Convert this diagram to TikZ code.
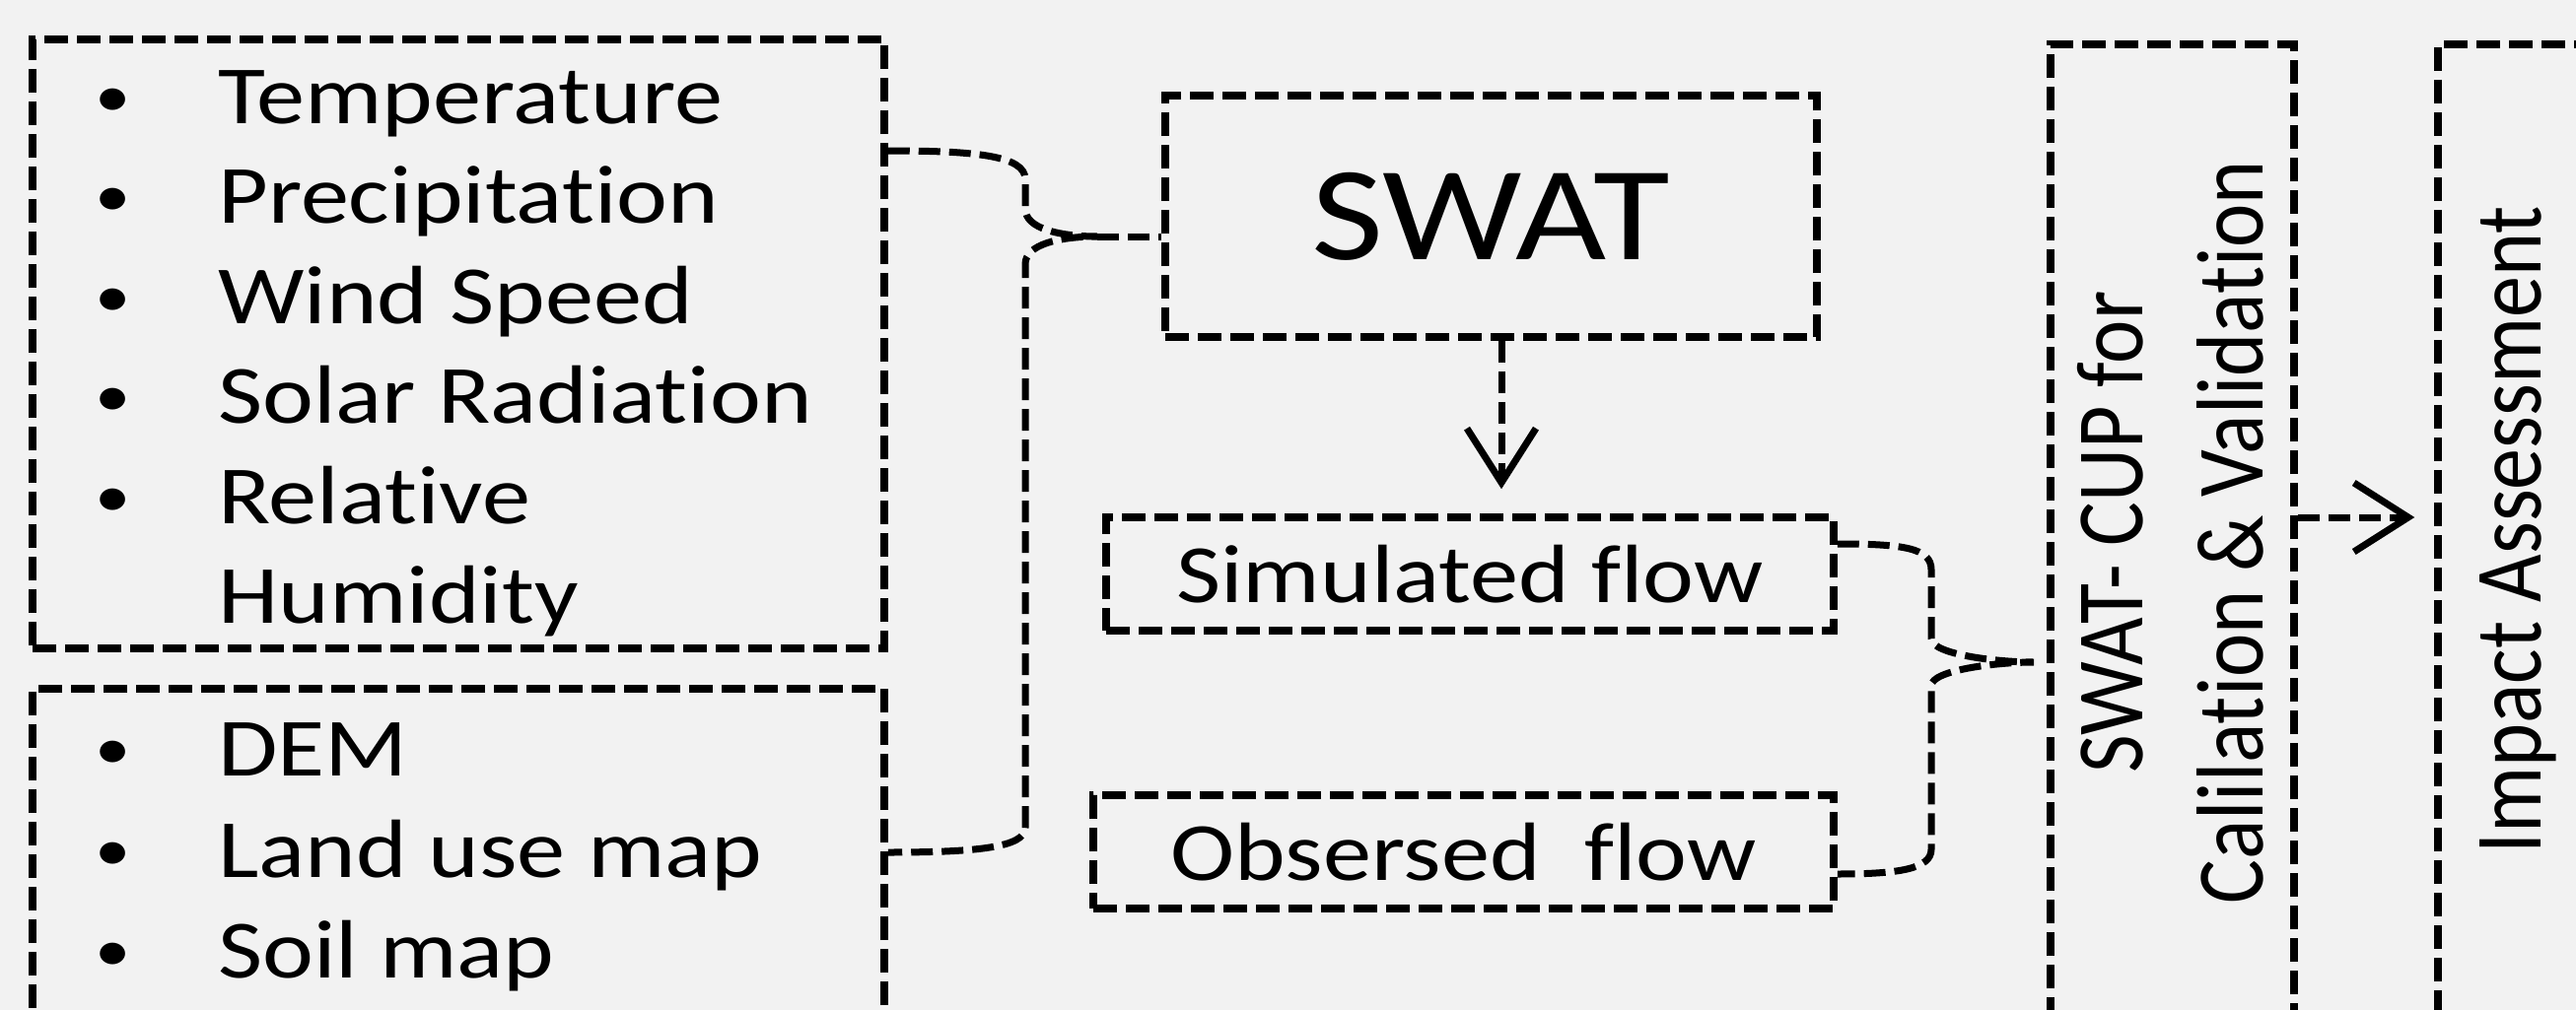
\documentclass[tikz,border=0pt]{standalone}
\usepackage{fontspec}
\setmainfont{Carlito}[FakeStretch=1.17, RawFeature={-liga;-dlig;-clig}]
\newfontfamily\vfont{Carlito}[RawFeature={-liga;-dlig;-clig}]
\usetikzlibrary{arrows.meta,calc}
\definecolor{bgc}{HTML}{F2F2F2}
\begin{document}
\begin{tikzpicture}[x=1pt,y=-1pt,
  dbox/.style={draw, line width=7.5pt, dash pattern=on 24pt off 9pt, inner sep=0pt},
  conn/.style={line width=7pt, dash pattern=on 22pt off 9pt},
  arr/.style={conn, -{Straight Barb[length=55pt,width=70pt]}},
  txt/.style={font=\fontsize{84}{101}\selectfont},
  itm/.style={txt, anchor=base west, inner sep=0pt},
  bul/.style={font=\fontsize{62}{70}\selectfont, anchor=base, inner sep=0pt},
  vtxt/.style={font=\vfont\fontsize{84}{101}\selectfont, inner sep=0pt, rotate=90, anchor=base},
]
\fill[bgc] (0,0) rectangle (2613,1025);
\useasboundingbox (0,0) rectangle (2613,1025);
\clip (0,0) rectangle (2613,1025);

% input boxes
\node[dbox, minimum width=864pt, minimum height=618pt] (clim) at (465,349) {};
\node[dbox, minimum width=864pt, minimum height=381pt] (geo) at (465,889.5) {};

\node[bul] (cb1) at (115,118) {•};
\node[itm] (ct1) at (221,125) {Temperature};
\node[bul] (cb2) at (115,219) {•};
\node[itm] (ct2) at (221,226) {Precipitation};
\node[bul] (cb3) at (115,321) {•};
\node[itm] (ct3) at (221,328) {Wind Speed};
\node[bul] (cb4) at (115,422) {•};
\node[itm] (ct4) at (221,429) {Solar Radiation};
\node[bul] (cb5) at (115,524) {•};
\node[itm] (ct5) at (221,531) {Relative};
\node[itm] (ct6) at (221,632) {Humidity};

\node[bul] (gb1) at (115,780) {•};
\node[itm] (gt1) at (221,787) {DEM};
\node[bul] (gb2) at (115,883) {•};
\node[itm] (gt2) at (221,890) {Land use map};
\node[bul] (gb3) at (115,985) {•};
\node[itm] (gt3) at (221,992) {Soil map};

% model boxes
\node[dbox, minimum width=661pt, minimum height=245pt, font=\fontsize{136}{160}\selectfont] (swat) at (1512.5,219.5) {SWAT};
\node[dbox, txt, minimum width=738pt, minimum height=115pt] (sim) at (1491,582.5) {Simulated flow};
\node[dbox, txt, minimum width=751pt, minimum height=115pt] (obs) at (1484.5,864.5) {Obsersed\ \ flow};

\node[dbox, minimum width=247pt, minimum height=1080pt] (cup) at (2203.5,585) {};
\node[dbox, minimum width=300pt, minimum height=1080pt] (imp) at (2623,585) {};

\node[vtxt] (cupa) at (2173,540) {\scalebox{1}[1.15]{SWAT- CUP for}};
\node[vtxt] (cupb) at (2295,540) {\scalebox{1}[1.15]{Calilation \& Validation}};
\node[vtxt] (impt) at (2577,538) {\scalebox{1}[1.15]{Impact Assessment}};

% left brace
\draw[conn] (clim.east |- 0,153) .. controls (990,153) and (1040,158) .. (1040,182)
  -- (1040,212) .. controls (1040,232) and (1075,240) .. (1113,240) coordinate (tipL)
  .. controls (1075,240) and (1040,248) .. (1040,268)
  -- (1040,840) .. controls (1040,860) and (990,865) .. (geo.east |- 0,865);
\draw[conn] (tipL) -- (tipL -| swat.west);

% right brace
\draw[conn] (sim.east |- 0,552) .. controls (1930,552) and (1959,556) .. (1959,578)
  -- (1959,648) .. controls (1959,664) and (2025,672) .. (2063,672) coordinate (tipR)
  .. controls (2025,672) and (1959,680) .. (1959,696)
  -- (1959,862) .. controls (1959,882) and (1925,887) .. (obs.east |- 0,887);

% arrows
\draw[arr] ([xshift=10.5pt]swat.south) -- ([xshift=32pt,yshift=25pt]sim.north);
\draw[arr] (cup.east |- 0,525) -- ([xshift=-20pt]imp.west |- 0,525);
\end{tikzpicture}
\end{document}
